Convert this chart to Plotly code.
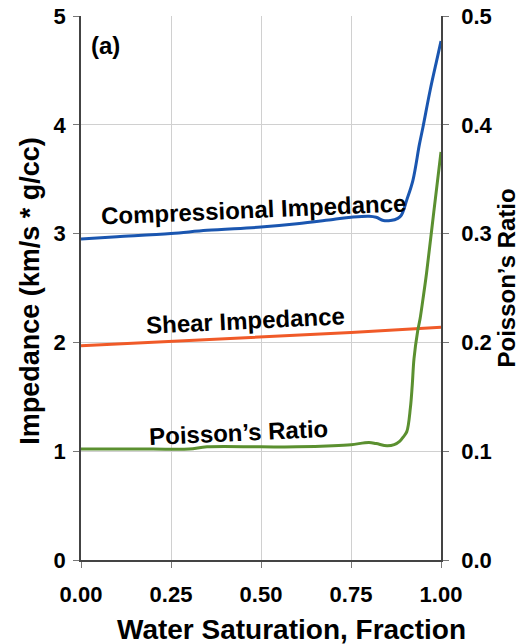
import plotly.graph_objects as go

# ---- data ----
sw_comp = [0.00, 0.10, 0.25, 0.35, 0.50, 0.60, 0.70, 0.75, 0.80, 0.82, 0.84, 0.86,
           0.88, 0.89, 0.905, 0.922, 0.94, 0.95, 0.97, 0.99, 1.00]
comp_imp = [2.95, 2.97, 3.00, 3.03, 3.06, 3.09, 3.13, 3.15, 3.16, 3.15, 3.12, 3.12,
            3.14, 3.17, 3.31, 3.49, 3.82, 3.98, 4.32, 4.62, 4.77]

sw_shear = [0.00, 0.25, 0.50, 0.75, 1.00]
shear_imp = [1.97, 2.01, 2.05, 2.09, 2.14]

sw_pr = [0.00, 0.10, 0.20, 0.30, 0.35, 0.50, 0.60, 0.70, 0.75, 0.80, 0.82, 0.85,
         0.87, 0.885, 0.895, 0.905, 0.915, 0.92, 0.925, 0.935, 0.942, 0.95, 0.96,
         0.98, 1.00]
poisson = [0.102, 0.102, 0.102, 0.102, 0.104, 0.104, 0.104, 0.105, 0.106, 0.108,
           0.107, 0.105, 0.106, 0.109, 0.113, 0.118, 0.140, 0.160, 0.185, 0.210,
           0.222, 0.240, 0.264, 0.320, 0.375]

x_ticks = [0.0, 0.25, 0.5, 0.75, 1.0]
x_ticktext = ["0.00", "0.25", "0.50", "0.75", "1.00"]

BLUE = "#1a56b0"
ORANGE = "#f05a28"
GREEN = "#5b9030"
FONT = "Liberation Sans, Arial, sans-serif"

fig = go.Figure()
fig.add_trace(go.Scatter(x=sw_comp, y=comp_imp, mode="lines", line=dict(color=BLUE, width=3),
                         name="Compressional Impedance", line_shape="spline"))
fig.add_trace(go.Scatter(x=sw_shear, y=shear_imp, mode="lines", line=dict(color=ORANGE, width=3),
                         name="Shear Impedance"))
fig.add_trace(go.Scatter(x=sw_pr, y=poisson, mode="lines", line=dict(color=GREEN, width=3),
                         name="Poisson's Ratio", yaxis="y2", line_shape="spline"))

tickfont = dict(family=FONT, size=22, color="black", weight="bold")
fig.update_layout(
    width=519, height=644,
    margin=dict(l=81, r=78, t=16, b=84, autoexpand=False),
    paper_bgcolor="white", plot_bgcolor="white",
    showlegend=False,
    font=dict(family=FONT, color="black"),
    xaxis=dict(range=[0, 1], tickvals=x_ticks, ticktext=x_ticktext, tickfont=tickfont,
               showgrid=True, gridcolor="#d0d0d0", gridwidth=1,
               showline=True, linecolor="#444444", linewidth=1.5,
               ticks="outside", ticklen=6, tickcolor="#777777", zeroline=False,
               ticklabelstandoff=8, ticklabeloverflow="allow"),
    yaxis=dict(range=[0, 5], dtick=1, tickfont=tickfont,
               showgrid=True, gridcolor="#d0d0d0", gridwidth=1,
               showline=True, linecolor="#444444", linewidth=1.5,
               ticks="outside", ticklen=6, tickcolor="#777777", zeroline=False,
               ticklabelstandoff=3, ticklabeloverflow="allow"),
    yaxis2=dict(range=[0, 0.5], dtick=0.1, tickformat=".1f", tickfont=tickfont,
                overlaying="y", side="right", showgrid=False,
                showline=True, linecolor="#444444", linewidth=1.5,
                ticks="outside", ticklen=6, tickcolor="#777777", zeroline=False,
                ticklabelstandoff=8, ticklabeloverflow="allow"),
)

def ann(text, x, y, size, angle=0, xref="paper", yref="paper"):
    fig.add_annotation(text=text, x=x, y=y, xref=xref, yref=yref, showarrow=False,
                       textangle=angle, xanchor="center", yanchor="middle",
                       font=dict(family=FONT, size=size, color="black", weight="bold"))

# axis titles (paper coords; plot area is 360 x 544 px)
ann("Water Saturation, Fraction", 0.586, (560 - 629) / 544, 28)
ann("Impedance (km/s * g/cc)", -0.142, 0.4945, 27, angle=-90)
ann("Poisson\u2019s Ratio", (506 - 81) / 360, 0.5175, 24, angle=-90)

# in-plot labels
ann("(a)", 0.067, 0.945, 24)
ann("Compressional Impedance", (253 - 81) / 360, (560 - 210) / 544, 24, angle=-2.5)
ann("Shear Impedance", (245 - 81) / 360, (560 - 320) / 544, 24, angle=-2.8)
ann("Poisson\u2019s Ratio", (238 - 81) / 360, (560 - 432) / 544, 24, angle=-2.6)

# remove the default 8px page margin so the figure fills the window
fig.write_html("out.html", config={"displayModeBar": False},
               post_script="document.body.style.margin='0';document.body.style.overflow='hidden';")
